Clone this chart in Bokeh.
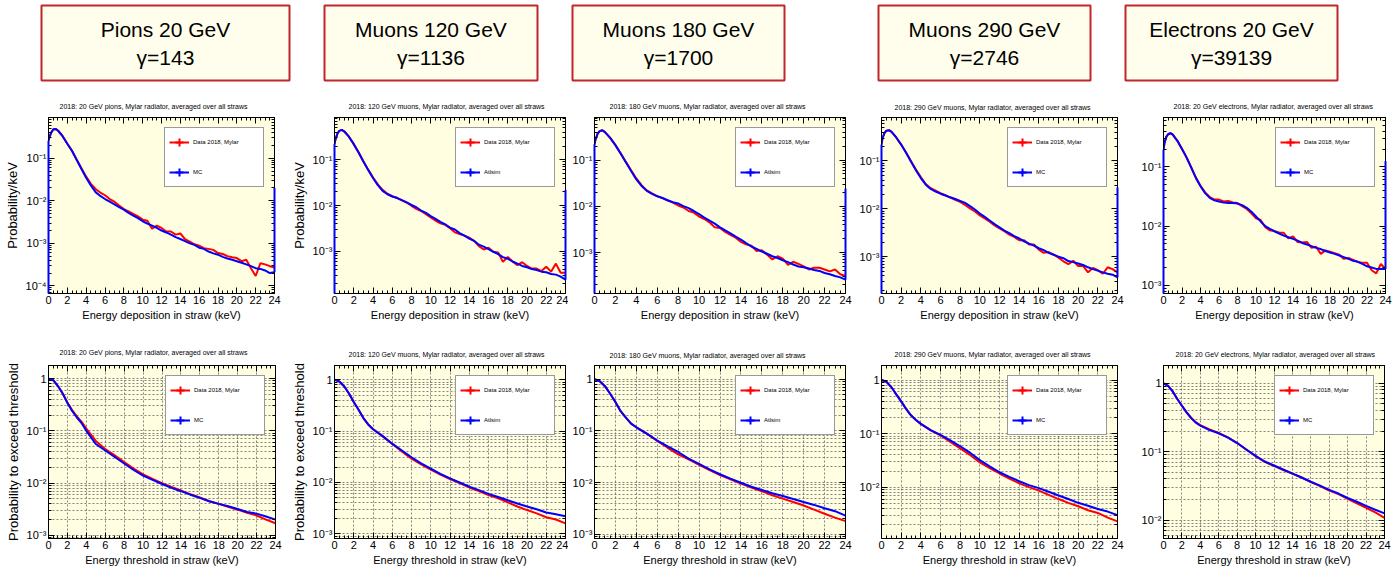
from bokeh.plotting import figure
from bokeh.layouts import row, column
from bokeh.models import (Range1d, LinearAxis, LogAxis, FixedTicker, CustomJSTickFormatter,
                          Legend, LegendItem)
from bokeh.embed import file_html
from bokeh.resources import INLINE
from bokeh.core.properties import value

# ---------------- data ----------------
beam_names = ["Pions 20 GeV", "Muons 120 GeV", "Muons 180 GeV", "Muons 290 GeV", "Electrons 20 GeV"]
gamma_labels = ["γ=143", "γ=1136", "γ=1700", "γ=2746", "γ=39139"]
plot_titles = [
    "2018: 20 GeV pions, Mylar radiator, averaged over all straws",
    "2018: 120 GeV muons, Mylar radiator, averaged over all straws",
    "2018: 180 GeV muons, Mylar radiator, averaged over all straws",
    "2018: 290 GeV muons, Mylar radiator, averaged over all straws",
    "2018: 20 GeV electrons, Mylar radiator, averaged over all straws",
]
data_label = "Data 2018, Mylar"
mc_labels = ["MC", "Atlsim", "Atlsim", "MC", "MC"]

x_ticks = [0, 2, 4, 6, 8, 10, 12, 14, 16, 18, 20, 22, 24]
y_ticks = [1e-4, 1e-3, 1e-2, 1e-1, 1]

# energy deposition spectra (probability / keV)
E_dep = [0.0, 0.1, 0.3, 0.5, 0.75, 1.0, 1.5, 2.0, 2.5, 3.0, 3.5, 4.0, 4.5, 5.0, 5.5, 6.0, 6.5, 7.0,
         7.5, 8.0, 8.5, 9.0, 9.5, 10.0, 10.5, 11.0, 11.5, 12.0, 12.5, 13.0, 13.5, 14.0, 14.5, 15.0,
         15.5, 16.0, 16.5, 17.0, 17.5, 18.0, 18.5, 19.0, 19.5, 20.0, 20.5, 21.0, 21.5, 22.0, 22.5,
         23.0, 23.5, 24.0]

pion_dep_data = [0.26,
    0.31, 0.40, 0.47, 0.49, 0.45, 0.33, 0.22, 0.15, 0.093, 0.058,
    0.037, 0.025, 0.019, 0.0156, 0.0135, 0.011, 0.0095, 0.0077, 0.0064, 0.0056,
    0.0049, 0.0043, 0.0036, 0.0034, 0.0022, 0.0026, 0.0023, 0.0019, 0.0019, 0.0016,
    0.0017, 0.00126, 0.0011, 0.00095, 0.00088, 0.00077, 0.00074, 0.0007, 0.00059, 0.00056,
    0.0005, 0.00047, 0.00045, 0.00038, 0.00041, 0.00026, 0.00017, 0.00034, 0.00032, 0.00029,
    0.00027]
pion_dep_mc = [0.26,
    0.32, 0.41, 0.48, 0.49, 0.45, 0.33, 0.22, 0.148, 0.091, 0.056,
    0.035, 0.023, 0.016, 0.013, 0.011, 0.0095, 0.0082, 0.0071, 0.0062, 0.0052,
    0.0045, 0.0039, 0.0033, 0.0029, 0.0026, 0.0023, 0.0020, 0.0018, 0.0016, 0.0014,
    0.00126, 0.00113, 0.0010, 0.00092, 0.00079, 0.00074, 0.00064, 0.00058, 0.00054, 0.00048,
    0.00044, 0.00041, 0.00038, 0.00035, 0.00032, 0.00029, 0.00026, 0.00025, 0.00023, 0.00020,
    0.00021]

mu120_dep_data = [0.22,
    0.28, 0.37, 0.43, 0.45, 0.42, 0.32, 0.22, 0.146, 0.093, 0.061,
    0.041, 0.029, 0.022, 0.0182, 0.016, 0.0148, 0.013, 0.0116, 0.0099, 0.0085,
    0.0076, 0.0065, 0.0055, 0.0047, 0.0041, 0.0038, 0.0032, 0.0026, 0.0024, 0.0022,
    0.0020, 0.0017, 0.0013, 0.0011, 0.0012, 0.00098, 0.00095, 0.00059, 0.00075, 0.00060,
    0.00050, 0.00058, 0.00048, 0.00042, 0.00042, 0.00037, 0.00046, 0.00036, 0.00054, 0.00034,
    0.00034]
mu120_dep_mc = [0.22,
    0.28, 0.37, 0.43, 0.45, 0.42, 0.32, 0.22, 0.145, 0.092, 0.060,
    0.040, 0.028, 0.021, 0.0177, 0.0158, 0.0146, 0.0132, 0.0118, 0.0103, 0.0092,
    0.0078, 0.0069, 0.0059, 0.0051, 0.0044, 0.0039, 0.0033, 0.0030, 0.0025, 0.0022,
    0.0019, 0.0017, 0.0014, 0.00127, 0.00112, 0.00098, 0.00087, 0.00075, 0.00069, 0.00060,
    0.00054, 0.00048, 0.00045, 0.00041, 0.00039, 0.00036, 0.00035, 0.00032, 0.00031, 0.00028,
    0.00024]

mu180_dep_data = [0.22,
    0.28, 0.37, 0.42, 0.44, 0.40, 0.30, 0.21, 0.139, 0.091, 0.060,
    0.040, 0.0285, 0.022, 0.019, 0.0166, 0.015, 0.0133, 0.012, 0.0104, 0.0094,
    0.0079, 0.0073, 0.0060, 0.0053, 0.0045, 0.0035, 0.0034, 0.0028, 0.0024, 0.0021,
    0.0017, 0.0015, 0.0014, 0.00108, 0.00112, 0.00090, 0.00071, 0.00083, 0.00074, 0.00054,
    0.00063, 0.00057, 0.00050, 0.00043, 0.00047, 0.00047, 0.00043, 0.00039, 0.00043, 0.00034,
    0.00031]
mu180_dep_mc = [0.22,
    0.28, 0.37, 0.42, 0.44, 0.40, 0.30, 0.21, 0.138, 0.089, 0.058,
    0.038, 0.0275, 0.0215, 0.0186, 0.0164, 0.0151, 0.0135, 0.0122, 0.0115, 0.0101,
    0.0091, 0.0079, 0.0068, 0.0057, 0.0049, 0.0042, 0.0035, 0.0030, 0.0026, 0.0022,
    0.0019, 0.0016, 0.00135, 0.0012, 0.00105, 0.00094, 0.00083, 0.00076, 0.00068, 0.00062,
    0.00055, 0.00050, 0.00048, 0.00045, 0.00042, 0.00040, 0.00036, 0.00034, 0.00031, 0.00029,
    0.00026]

mu290_dep_data = [0.22,
    0.30, 0.38, 0.43, 0.44, 0.41, 0.31, 0.22, 0.15, 0.099, 0.066,
    0.046, 0.033, 0.027, 0.024, 0.0213, 0.0192, 0.0172, 0.0155, 0.014, 0.012,
    0.0102, 0.0088, 0.0073, 0.0063, 0.0054, 0.0045, 0.0039, 0.0034, 0.0029, 0.0026,
    0.0022, 0.0022, 0.0018, 0.0018, 0.0014, 0.0012, 0.00125, 0.0011, 0.00095, 0.00080,
    0.00070, 0.00082, 0.00064, 0.00064, 0.00047, 0.00058, 0.00052, 0.00044, 0.00060, 0.00055,
    0.00047]
mu290_dep_mc = [0.22,
    0.30, 0.38, 0.43, 0.44, 0.41, 0.31, 0.22, 0.148, 0.097, 0.064,
    0.044, 0.032, 0.026, 0.023, 0.0207, 0.019, 0.0174, 0.016, 0.0146, 0.0133,
    0.0114, 0.0097, 0.0080, 0.0068, 0.0057, 0.0048, 0.0041, 0.0035, 0.0031, 0.0027,
    0.0024, 0.0021, 0.00188, 0.0017, 0.0015, 0.00137, 0.0012, 0.0011, 0.0010, 0.00093,
    0.00081, 0.00077, 0.00072, 0.00067, 0.00060, 0.00055, 0.00051, 0.00047, 0.00044, 0.00042,
    0.00037]

ele_dep_data = [0.195,
    0.25, 0.32, 0.355, 0.37, 0.35, 0.275, 0.20, 0.144, 0.098, 0.066,
    0.048, 0.037, 0.031, 0.028, 0.028, 0.026, 0.0266, 0.025, 0.0245, 0.0218,
    0.0195, 0.0164, 0.0136, 0.0127, 0.0096, 0.0085, 0.0082, 0.0078, 0.0077, 0.0062,
    0.0067, 0.0054, 0.0053, 0.0054, 0.0043, 0.0045, 0.0034, 0.0039, 0.0037, 0.0035,
    0.0033, 0.0028, 0.0029, 0.0027, 0.0025, 0.0024, 0.0024, 0.0018, 0.0016, 0.0023,
    0.0019]
ele_dep_mc = [0.195,
    0.25, 0.32, 0.355, 0.37, 0.35, 0.275, 0.20, 0.143, 0.097, 0.065,
    0.047, 0.036, 0.030, 0.0272, 0.026, 0.025, 0.0246, 0.0246, 0.024, 0.0226,
    0.0204, 0.0175, 0.0145, 0.012, 0.010, 0.0090, 0.0082, 0.0075, 0.0069, 0.0065,
    0.0061, 0.0057, 0.0052, 0.0049, 0.0046, 0.0043, 0.0041, 0.0038, 0.0036, 0.0034,
    0.0032, 0.0030, 0.0028, 0.0026, 0.0025, 0.0023, 0.0021, 0.0020, 0.0019, 0.0019,
    0.0019]

# overflow content of the MC histogram in its last bin (24 keV)
mc_overflow = [0.02, 0.022, 0.024, 0.028, 0.125]

# probability to exceed threshold
E_thr = [0.0, 0.5, 1.0, 1.5, 2.0, 2.5, 3.0, 3.5, 4.0, 5.0, 6.0, 7.0, 8.0, 9.0, 10.0, 11.0, 12.0,
         13.0, 14.0, 15.0, 16.0, 17.0, 18.0, 19.0, 20.0, 21.0, 22.0, 23.0, 24.0]

pion_thr_data = [1.0, 0.93, 0.72, 0.52, 0.35, 0.25, 0.19, 0.148, 0.11,
    0.064, 0.045, 0.034, 0.0253, 0.019, 0.0147, 0.012, 0.010, 0.0084, 0.0072,
    0.0061, 0.0053, 0.0045, 0.0040, 0.0035, 0.0031, 0.0027, 0.0024, 0.0020, 0.0017]
pion_thr_mc = [1.0, 0.93, 0.72, 0.52, 0.34, 0.24, 0.18, 0.14, 0.10,
    0.056, 0.042, 0.0316, 0.0237, 0.0178, 0.0139, 0.0115, 0.0096, 0.0081, 0.0070,
    0.0060, 0.0052, 0.0045, 0.0040, 0.0036, 0.0032, 0.0028, 0.0026, 0.0023, 0.0020]

mu120_thr_data = [1.0, 0.93, 0.75, 0.54, 0.37, 0.26, 0.18, 0.135, 0.11,
    0.080, 0.056, 0.040, 0.029, 0.0226, 0.0178, 0.0142, 0.0117, 0.0097, 0.0080,
    0.0068, 0.0057, 0.0049, 0.0041, 0.0034, 0.0029, 0.0025, 0.0021, 0.0019, 0.0016]
mu120_thr_mc = [1.0, 0.93, 0.75, 0.54, 0.37, 0.26, 0.18, 0.135, 0.109,
    0.080, 0.057, 0.042, 0.031, 0.0236, 0.0187, 0.0147, 0.012, 0.010, 0.0083,
    0.0071, 0.0060, 0.0052, 0.0045, 0.0039, 0.0034, 0.0030, 0.0026, 0.0024, 0.0022]

mu180_thr_data = [1.0, 0.91, 0.73, 0.52, 0.36, 0.24, 0.18, 0.138, 0.117,
    0.088, 0.064, 0.047, 0.035, 0.028, 0.022, 0.0175, 0.014, 0.0116, 0.0096,
    0.0080, 0.0068, 0.0057, 0.0049, 0.0042, 0.0036, 0.0030, 0.0025, 0.0021, 0.0018]
mu180_thr_mc = [1.0, 0.91, 0.73, 0.52, 0.36, 0.24, 0.18, 0.138, 0.117,
    0.088, 0.065, 0.050, 0.039, 0.029, 0.023, 0.018, 0.0145, 0.0119, 0.0099,
    0.0083, 0.0072, 0.0062, 0.0055, 0.0048, 0.0042, 0.0037, 0.0032, 0.0028, 0.0023]

mu290_thr_data = [1.0, 0.93, 0.74, 0.54, 0.40, 0.29, 0.22, 0.18, 0.152,
    0.115, 0.093, 0.070, 0.053, 0.040, 0.029, 0.0227, 0.018, 0.0144, 0.0118,
    0.0100, 0.0086, 0.0072, 0.0060, 0.0051, 0.0044, 0.0037, 0.0033, 0.0027, 0.0023]
mu290_thr_mc = [1.0, 0.93, 0.74, 0.54, 0.40, 0.29, 0.22, 0.18, 0.152,
    0.116, 0.095, 0.075, 0.058, 0.044, 0.032, 0.0245, 0.019, 0.0156, 0.0129,
    0.0109, 0.0096, 0.0082, 0.0070, 0.0060, 0.0051, 0.0045, 0.0039, 0.0035, 0.0030]

ele_thr_data = [1.0, 0.92, 0.76, 0.59, 0.47, 0.38, 0.315, 0.27, 0.245,
    0.212, 0.188, 0.162, 0.134, 0.107, 0.086, 0.071, 0.062, 0.054, 0.048,
    0.042, 0.036, 0.0315, 0.027, 0.024, 0.0205, 0.0176, 0.0152, 0.013, 0.0108]
ele_thr_mc = [1.0, 0.92, 0.76, 0.59, 0.47, 0.376, 0.31, 0.266, 0.24,
    0.207, 0.186, 0.161, 0.134, 0.108, 0.087, 0.072, 0.063, 0.055, 0.048,
    0.042, 0.0364, 0.032, 0.0277, 0.0245, 0.0211, 0.0186, 0.0162, 0.0142, 0.0126]

dep_data = [pion_dep_data, mu120_dep_data, mu180_dep_data, mu290_dep_data, ele_dep_data]
dep_mc = [pion_dep_mc, mu120_dep_mc, mu180_dep_mc, mu290_dep_mc, ele_dep_mc]
thr_data = [pion_thr_data, mu120_thr_data, mu180_thr_data, mu290_thr_data, ele_thr_data]
thr_mc = [pion_thr_mc, mu120_thr_mc, mu180_thr_mc, mu290_thr_mc, ele_thr_mc]

# ---------------- style / layout ----------------
FRAME_BG = "#FFFEE0"
BOX_BG = "#FFFEEC"
BOX_EDGE = "#C0262B"
RED = "#FF0000"
BLUE = "#0000FF"
SANS = "Liberation Sans"

TOP_YR = [(6.6e-5, 0.91), (1.2e-4, 0.84), (1.3e-4, 0.83), (1.7e-4, 0.81), (7.3e-4, 0.68)]
BOT_YR = [(8.7e-4, 1.78), (8.1e-4, 1.9), (8.3e-4, 1.83), (1.1e-3, 1.87), (5.4e-3, 1.82)]
# width, height, left, right, top, bottom borders
BOX_GEOM = [(300, 88, 41, 11, 5, 4), (260, 88, 24, 23, 4, 7), (300, 88, 12, 76, 5, 5),
            (250, 88, 18, 20, 5, 6), (283, 88, 15, 56, 5, 8)]
TOP_GEOM = [(288, 245, 48, 14, 27, 39), (280, 245, 42, 3, 28, 35), (287, 245, 26, 10, 26, 38),
            (282, 245, 26, 20, 29, 36), (256, 245, 26, 8, 26, 40)]
BOT_GEOM = [(288, 244, 48, 13, 30, 37), (280, 244, 42, 3, 32, 31), (287, 244, 26, 10, 30, 32),
            (282, 244, 26, 20, 30, 35), (256, 244, 26, 9, 27, 39)]
TITLE_OFF_TOP = [11, 14, 15, 13, 10]
TITLE_OFF_BOT = [11, 14, 15, 13, 12]
TITLE_STANDOFF_TOP = [16, 15, 15, 13, 15]
TITLE_STANDOFF_BOT = [19, 15, 13, 15, 15]
SHOW_YLABEL = [True, True, False, False, False]

SUP = CustomJSTickFormatter(code="""
const e = Math.round(Math.log10(tick));
if (e === 0) { return "1"; }
const s = {"-":"\u207b","0":"\u2070","1":"\u00b9","2":"\u00b2","3":"\u00b3","4":"\u2074","5":"\u2075","6":"\u2076","7":"\u2077","8":"\u2078","9":"\u2079"};
return "10" + String(e).split("").map(c => s[c]).join("");
""")


def style_axis(ax, labels=True):
    ax.major_tick_in = 6
    ax.major_tick_out = 0
    ax.minor_tick_in = 3
    ax.minor_tick_out = 0
    ax.axis_line_color = "black"
    ax.major_tick_line_color = "black"
    ax.minor_tick_line_color = "black"
    ax.major_label_standoff = 2
    ax.major_label_text_font = SANS
    if labels:
        ax.major_label_text_font_size = "11px"
        ax.major_label_text_color = "black"
    else:
        ax.major_label_text_font_size = "1px"
        ax.major_label_text_color = None
        ax.major_label_standoff = 0


def make_panel(i, xs, d_vals, m_vals, yr, geom, grid, xlabel, ylabel, toff, tstand, overflow):
    w, h, L, R, T, B = geom
    xt = FixedTicker(ticks=x_ticks, minor_ticks=[k * 0.5 for k in range(49)])
    yt = FixedTicker(ticks=y_ticks, minor_ticks=[m * 10.0 ** e for e in range(-5, 1) for m in range(2, 10)])
    p = figure(width=w, height=h, x_range=Range1d(0, 24), y_range=Range1d(*yr),
               y_axis_type="log", output_backend="svg", toolbar_location=None,
               min_border_left=L, min_border_right=R, min_border_top=T, min_border_bottom=B,
               background_fill_color=FRAME_BG, border_fill_color="white",
               outline_line_color="black", outline_line_width=1)
    p.title.text = plot_titles[i]
    p.title.text_font = SANS
    p.title.text_font_size = "7px"
    p.title.text_font_style = "normal"
    p.title.text_color = "black"
    p.title.align = "left"
    p.title.offset = toff
    p.title.standoff = tstand

    xa = p.xaxis[0]
    ya = p.yaxis[0]
    xa.ticker = xt
    ya.ticker = yt
    ya.formatter = SUP
    style_axis(xa)
    style_axis(ya)
    xa.axis_label = xlabel
    xa.axis_label_text_font = SANS
    xa.axis_label_text_font_size = "11px"
    xa.axis_label_text_font_style = "normal"
    xa.axis_label_text_color = "black"
    xa.axis_label_standoff = 2
    if SHOW_YLABEL[i]:
        ya.axis_label = ylabel
        ya.axis_label_text_font = SANS
        ya.axis_label_text_font_size = "13px"
        ya.axis_label_text_font_style = "normal"
        ya.axis_label_text_color = "black"
        ya.axis_label_standoff = 3

    top_ax = LinearAxis(ticker=xt)
    style_axis(top_ax, labels=False)
    p.add_layout(top_ax, "above")
    right_ax = LogAxis(ticker=yt)
    style_axis(right_ax, labels=False)
    p.add_layout(right_ax, "right")

    p.xgrid.ticker = xt
    p.ygrid.ticker = yt
    if grid:
        for g in (p.xgrid[0], p.ygrid[0]):
            g.grid_line_color = "#666666"
            g.grid_line_dash = "2 2"
            g.grid_line_width = 1
            g.grid_line_alpha = 0.8
        p.ygrid[0].minor_grid_line_color = "#666666"
        p.ygrid[0].minor_grid_line_dash = "2 2"
        p.ygrid[0].minor_grid_line_alpha = 0.8
    else:
        p.xgrid.grid_line_color = None
        p.ygrid.grid_line_color = None

    r_d = p.line(xs, d_vals, line_color=RED, line_width=2)
    r_m = p.line(xs, m_vals, line_color=BLUE, line_width=2)
    if overflow is not None:
        p.segment(x0=[xs[0]], y0=[yr[0]], x1=[xs[0]], y1=[m_vals[0]], line_color=BLUE,
                  line_width=2, level="overlay")
        p.segment(x0=[xs[-1]], y0=[m_vals[-1]], x1=[xs[-1]], y1=[overflow], line_color=BLUE,
                  line_width=2, level="overlay")

    # zero-size markers: only give the legend entries their vertical error-bar stroke
    c_d = p.scatter(xs, d_vals, marker="cross", size=0, line_color=RED, line_width=2)
    c_m = p.scatter(xs, m_vals, marker="cross", size=0, line_color=BLUE, line_width=2)
    leg = Legend(items=[LegendItem(label=data_label, renderers=[r_d, c_d]),
                        LegendItem(label=mc_labels[i], renderers=[r_m, c_m])],
                 location="top_right", margin=10, padding=4, spacing=10,
                 glyph_width=20, glyph_height=20, label_height=20, label_width=66,
                 label_standoff=4, label_text_font=SANS, label_text_font_size="6px",
                 label_text_color="black", background_fill_color="white", background_fill_alpha=1,
                 border_line_color="#333333", border_line_width=1)
    p.add_layout(leg, "center")
    return p


def make_box(i, geom):
    w, h, L, R, T, B = geom
    p = figure(width=w, height=h, x_range=Range1d(0, 1), y_range=Range1d(0, 1),
               output_backend="svg", toolbar_location=None,
               x_axis_location=None, y_axis_location=None,
               min_border_left=L, min_border_right=R, min_border_top=T, min_border_bottom=B,
               background_fill_color=BOX_BG, border_fill_color="white",
               outline_line_color=BOX_EDGE, outline_line_width=2)
    p.xgrid.grid_line_color = None
    p.ygrid.grid_line_color = None
    p.text(x=[0.5, 0.5], y=[0.68, 0.31], text=[beam_names[i], gamma_labels[i]],
           text_align="center", text_baseline="middle", text_font=value(SANS),
           text_font_size="21px", text_color="black")
    return p


boxes = [make_box(i, BOX_GEOM[i]) for i in range(5)]
tops = [make_panel(i, E_dep, dep_data[i], dep_mc[i], TOP_YR[i], TOP_GEOM[i], False,
                   "Energy deposition in straw (keV)", "Probability/keV", TITLE_OFF_TOP[i],
                   TITLE_STANDOFF_TOP[i], mc_overflow[i]) for i in range(5)]
bots = [make_panel(i, E_thr, thr_data[i], thr_mc[i], BOT_YR[i], BOT_GEOM[i], True,
                   "Energy threshold in straw (keV)", "Probability to exceed threshold",
                   TITLE_OFF_BOT[i], TITLE_STANDOFF_BOT[i], None) for i in range(5)]

layout = column(row(*boxes, spacing=0), row(*tops, spacing=0), row(*bots, spacing=0), spacing=0)

open("out.html", "w").write(file_html(layout, INLINE))
